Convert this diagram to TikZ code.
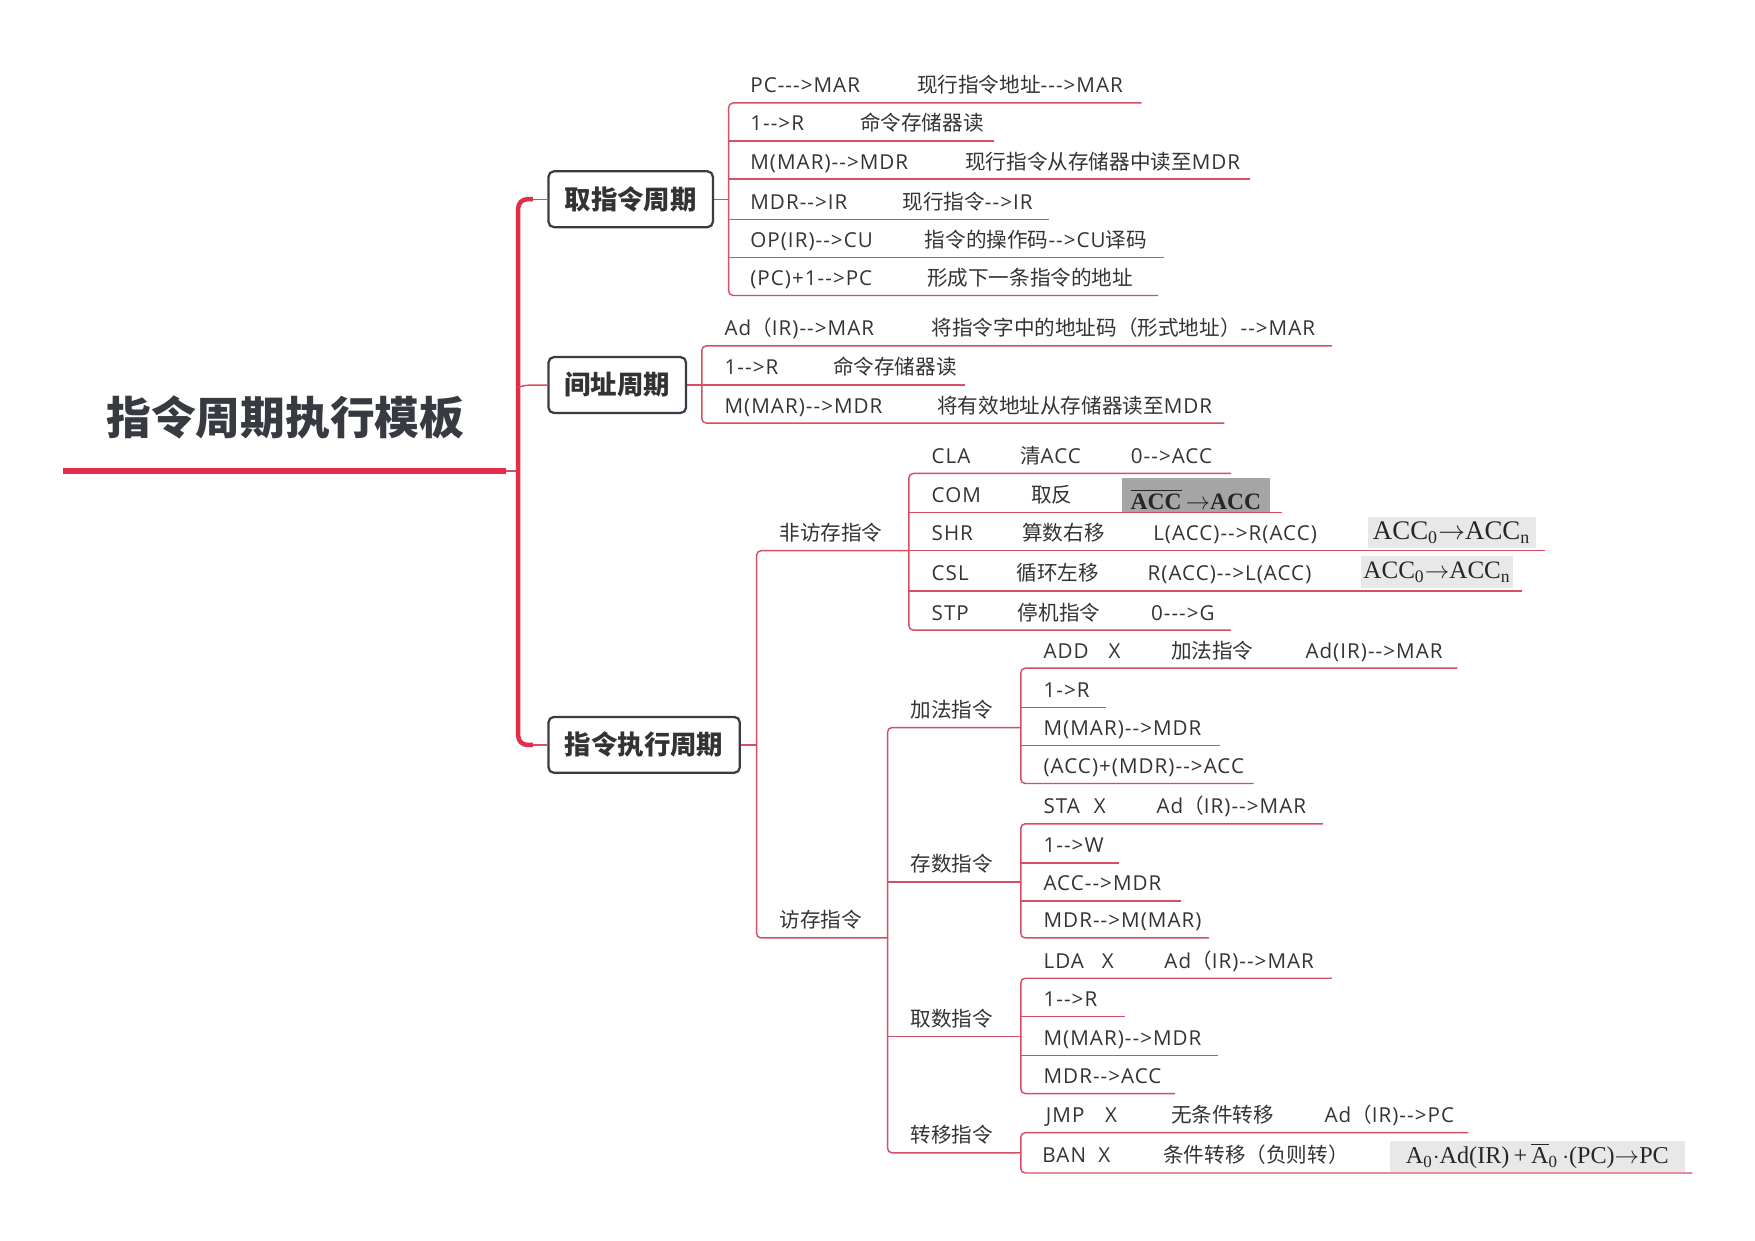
\documentclass[tikz,border=0pt]{standalone}
\usepackage{fontspec}
\setmainfont{Open Sans}[Ligatures=TeXOff,LetterSpace=5]
\newfontfamily\zhfont{Noto Sans CJK SC}
\newfontfamily\seriffont{Liberation Serif}
\newcommand\zh[1]{{\zhfont #1}}
\definecolor{bigred}{RGB}{226,45,75}
\definecolor{smallred}{RGB}{214,78,100}
\definecolor{txt}{RGB}{51,51,51}
\definecolor{boxline}{RGB}{58,60,68}
\definecolor{darkimg}{RGB}{165,165,165}
\definecolor{lightimg}{RGB}{232,232,232}
\begin{document}
\begin{tikzpicture}[x=0.5pt,y=-0.5pt,
  itm/.style={anchor=base west,inner sep=0pt,font=\fontsize{9.2}{11}\selectfont,text=txt},
  bigline/.style={draw=bigred,line width=2pt},
  smallline/.style={draw=smallred,line width=0.65pt},
  bracket/.style={draw=smallred,line width=0.65pt,rounded corners=2pt},
  topbox/.style={draw=boxline,line width=1pt,rounded corners=2.5pt,fill=white,
     minimum height=25pt,inner sep=0pt,text=txt,
     font=\zhfont\bfseries\fontsize{11.8}{13}\selectfont},
  imgbox/.style={inner sep=0pt,minimum height=14pt,text=black!85}]
\useasboundingbox (0,0) rectangle (1568,1108);

% ---------- root ----------
\node[text={rgb,255:red,56;green,58;blue,66},font=\zhfont\bfseries\fontsize{20}{24}\selectfont,inner sep=0pt] (root) at (255,373) {指令周期执行模板};
\coordinate (rootend) at (452,421);
\draw[draw=bigred,line width=2.6pt] (56,421) -- (rootend);
\draw[smallline] (rootend) -- (463,421);

% ---------- level-1 boxes ----------
\node[topbox,minimum width=73.5pt] (fetch) at (563.5,178) {取指令周期};
\node[topbox,minimum width=61.5pt] (indir) at (551.5,344) {间址周期};
\node[topbox,minimum width=85.5pt] (exec)  at (575.5,665.5) {指令执行周期};

\draw[bigline,rounded corners=4pt] (476,178) -- (463,178) -- (463,665.5) -- (476,665.5);
\draw[smallline] (476,178) -- (fetch.west);
\draw[smallline] (476,665.5) -- (exec.west);
\draw[smallline,rounded corners=2pt] (463,346) -- (470,344) -- (indir.west);

% ---------- fetch cycle ----------
\draw[smallline] (fetch.east) -- (651,178);
\draw[bracket] (1020,92) -- (651,92) -- (651,264) -- (1035,264);
\draw[smallline] (651,126) -- (888,126);
\draw[smallline] (651,160) -- (1117,160);
\draw[smallline] (651,196) -- (937,196);
\draw[smallline] (651,230) -- (1040,230);
\node[itm] (f1a) at (670,83) {PC--->MAR};
\node[itm] (f1b) at (819,83) {\zh{现行指令地址}--->MAR};
\node[itm] (f2a) at (670,117) {1-->R};
\node[itm] (f2b) at (768,117) {\zh{命令存储器读}};
\node[itm] (f3a) at (670,151) {M(MAR)-->MDR};
\node[itm] (f3b) at (862,151) {\zh{现行指令从存储器中读至}MDR};
\node[itm] (f4a) at (670,187) {MDR-->IR};
\node[itm] (f4b) at (806,187) {\zh{现行指令}-->IR};
\node[itm] (f5a) at (670,221) {OP(IR)-->CU};
\node[itm] (f5b) at (826,221) {\zh{指令的操作码}-->CU\zh{译码}};
\node[itm] (f6a) at (670,255) {(PC)+1-->PC};
\node[itm] (f6b) at (828,255) {\zh{形成下一条指令的地址}};

% ---------- indirect cycle ----------
\draw[smallline] (indir.east) -- (627,344);
\draw[bracket] (1190,309) -- (627,309) -- (627,378) -- (1094,378);
\draw[smallline] (627,344) -- (862,344);
\node[itm] (i1a) at (647,300) {Ad\zh{（}IR)-->MAR};
\node[itm] (i1b) at (832,300) {\zh{将指令字中的地址码（形式地址）}-->MAR};
\node[itm] (i2a) at (647,335) {1-->R};
\node[itm] (i2b) at (744,335) {\zh{命令存储器读}};
\node[itm] (i3a) at (647,369) {M(MAR)-->MDR};
\node[itm] (i3b) at (837,369) {\zh{将有效地址从存储器读至}MDR};

% ---------- execute cycle ----------
\draw[smallline] (exec.east) -- (676,665.5);
\draw[bracket] (812,492) -- (676,492) -- (676,838) -- (793,838);
\node[itm] (nomem) at (696,483) {\zh{非访存指令}};
\node[itm] (mem) at (696,829) {\zh{访存指令}};

% non-memory instructions
\draw[bracket] (1100,423) -- (812,423) -- (812,563) -- (1100,563);
\draw[smallline] (812,458) -- (1145,458);
\draw[smallline] (812,492) -- (1380,492);
\draw[smallline] (812,528) -- (1360,528);
\node[itm] (n1a) at (832,414) {CLA};
\node[itm] (n1b) at (911,414) {\zh{清}ACC};
\node[itm] (n1c) at (1010,414) {0-->ACC};
\node[itm] (n2a) at (832,449) {COM};
\node[itm] (n2b) at (921,449) {\zh{取反}};
\node[imgbox,fill=darkimg,minimum width=66.5pt,minimum height=15pt] (n2c) at (1068.5,442) {};
\node[inner sep=0pt,anchor=base,text=black!85,
      font=\seriffont\bfseries\fontsize{10.5}{12}\selectfont] (n2t) at (1068.5,455)
      {$\overline{\mbox{ACC}}\,$$\rightarrow$ACC};
\node[itm] (n3a) at (832,483) {SHR};
\node[itm] (n3b) at (913,483) {\zh{算数右移}};
\node[itm] (n3c) at (1030,483) {L(ACC)-->R(ACC)};
\node[imgbox,fill=lightimg,minimum width=75pt,
      font=\seriffont\fontsize{12}{14}\selectfont] (n3d) at (1297,476)
      {ACC\textsubscript{0}$\rightarrow$ACC\textsubscript{n}};
\node[itm] (n4a) at (832,519) {CSL};
\node[itm] (n4b) at (908,519) {\zh{循环左移}};
\node[itm] (n4c) at (1025,519) {R(ACC)-->L(ACC)};
\node[imgbox,fill=lightimg,minimum width=68pt,
      font=\seriffont\fontsize{11.2}{14}\selectfont] (n4d) at (1284,511)
      {ACC\textsubscript{0}$\rightarrow$ACC\textsubscript{n}};
\node[itm] (n5a) at (832,554) {STP};
\node[itm] (n5b) at (909,554) {\zh{停机指令}};
\node[itm] (n5c) at (1028,554) {0--->G};

% memory instructions
\draw[bracket] (912,650) -- (793,650) -- (793,1030) -- (912,1030);
\draw[smallline] (793,788) -- (912,788);
\draw[smallline] (793,926) -- (912,926);
\node[itm] (add) at (813,641) {\zh{加法指令}};
\node[itm] (sta) at (813,779) {\zh{存数指令}};
\node[itm] (lda) at (813,917) {\zh{取数指令}};
\node[itm] (jmp) at (813,1021) {\zh{转移指令}};

% add
\draw[bracket] (1302,597) -- (912,597) -- (912,700) -- (1120,700);
\draw[smallline] (912,632) -- (988,632);
\draw[smallline] (912,666) -- (1090,666);
\node[itm] (a1a) at (932,588) {ADD};
\node[itm] (a1b) at (990,588) {X};
\node[itm] (a1c) at (1046,588) {\zh{加法指令}};
\node[itm] (a1d) at (1166,588) {Ad(IR)-->MAR};
\node[itm] (a2) at (932,623) {1->R};
\node[itm] (a3) at (932,657) {M(MAR)-->MDR};
\node[itm] (a4) at (932,691) {(ACC)+(MDR)-->ACC};

% store
\draw[bracket] (1182,736) -- (912,736) -- (912,838) -- (1080,838);
\draw[smallline] (912,771) -- (1000,771);
\draw[smallline] (912,805) -- (1055,805);
\node[itm] (s1a) at (932,727) {STA};
\node[itm] (s1b) at (977,727) {X};
\node[itm] (s1c) at (1033,727) {Ad\zh{（}IR)-->MAR};
\node[itm] (s2) at (932,762) {1-->W};
\node[itm] (s3) at (932,796) {ACC-->MDR};
\node[itm] (s4) at (932,829) {MDR-->M(MAR)};

% load
\draw[bracket] (1190,874) -- (912,874) -- (912,977) -- (1050,977);
\draw[smallline] (912,908) -- (1005,908);
\draw[smallline] (912,943) -- (1088,943);
\node[itm] (l1a) at (932,865) {LDA};
\node[itm] (l1b) at (984,865) {X};
\node[itm] (l1c) at (1040,865) {Ad\zh{（}IR)-->MAR};
\node[itm] (l2) at (932,899) {1-->R};
\node[itm] (l3) at (932,934) {M(MAR)-->MDR};
\node[itm] (l4) at (932,968) {MDR-->ACC};

% jump
\draw[bracket] (1312,1012) -- (912,1012) -- (912,1048) -- (1512,1048);
\node[itm] (j1a) at (934,1003) {JMP};
\node[itm] (j1b) at (987,1003) {X};
\node[itm] (j1c) at (1046,1003) {\zh{无条件转移}};
\node[itm] (j1d) at (1183,1003) {Ad\zh{（}IR)-->PC};
\node[itm] (j2a) at (931,1039) {BAN};
\node[itm] (j2b) at (981,1039) {X};
\node[itm] (j2c) at (1039,1039) {\zh{条件转移（负则转）}};
\node[imgbox,fill=lightimg,minimum width=131.5pt,
      font=\seriffont\fontsize{10.8}{13}\selectfont] (j2d) at (1373.5,1033)
      {A\textsubscript{0}$\cdot$Ad(IR)\,+\,$\overline{\mbox{A}}$\textsubscript{0}\,$\cdot$(PC)$\rightarrow$PC};
\end{tikzpicture}
\end{document}
